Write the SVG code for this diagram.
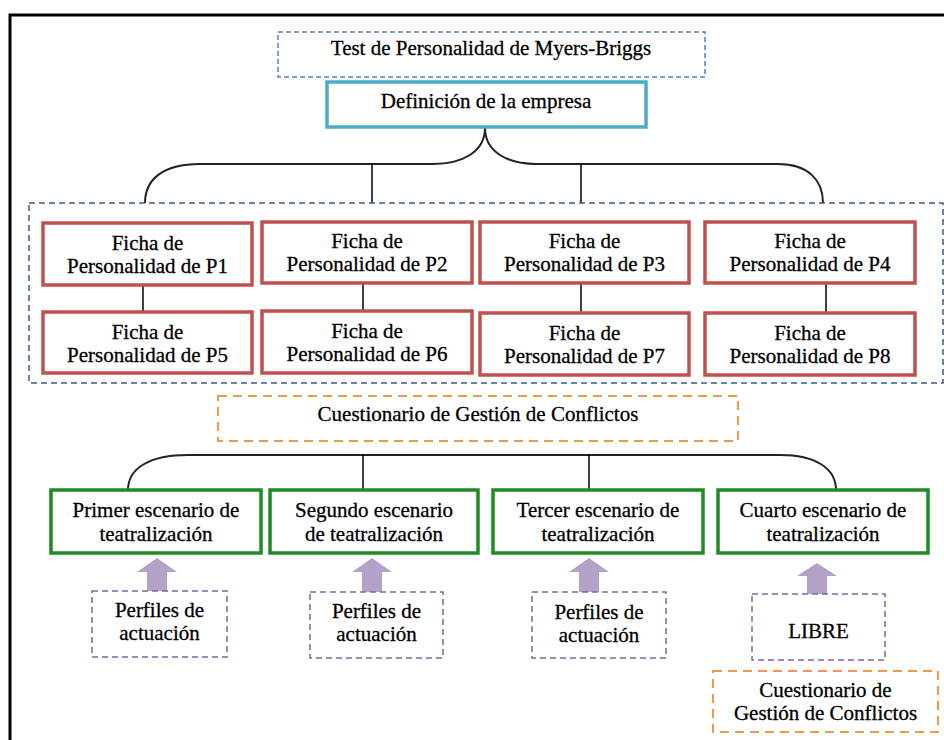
<svg xmlns="http://www.w3.org/2000/svg" width="944" height="740" viewBox="0 0 944 740">
  <style>
    text { font-family: "Liberation Serif", "Times New Roman", serif; font-size: 21px; fill: #000; stroke: #000; stroke-width: 0.3; text-anchor: middle; }
    .frame { fill: none; stroke: #000; stroke-width: 3; }
    .test { fill: #fff; stroke: #4f81bd; stroke-width: 1.5; stroke-dasharray: 5 3; }
    .def { fill: #fff; stroke: #4bacc6; stroke-width: 3.5; }
    .group { fill: none; stroke: #3c5a85; stroke-width: 1.5; stroke-dasharray: 6 4; }
    .ficha { fill: #fff; stroke: #c0504d; stroke-width: 3.5; }
    .quest { fill: #fff; stroke: #f79646; stroke-width: 2; stroke-dasharray: 9 6; }
    .scene { fill: #fff; stroke: #1f8b24; stroke-width: 3.5; }
    .perfil { fill: #fff; stroke: #8064a2; stroke-width: 1.5; stroke-dasharray: 6 4; }
    .arrow { fill: #b3a2c7; }
    .link { fill: none; stroke: #000; stroke-width: 1.5; }
    .brace { fill: none; stroke: #222; stroke-width: 2; }
  </style>

  <!-- page frame -->
  <path class="frame" d="M10,740 V15 H944"/>

  <!-- connectors -->
  <g id="connectors">
    <path class="brace" d="M145,203 C145,180 162,164 200,164 L433,164 C462,164 485,152 485,128 C485,152 508,164 536,164 L778,164 C808,164 823,180 823,203"/>
    <line class="link" x1="372" y1="164" x2="372" y2="203"/>
    <line class="link" x1="581" y1="164" x2="581" y2="203"/>
    <line class="link" x1="143" y1="285" x2="143" y2="312"/>
    <line class="link" x1="363" y1="283" x2="363" y2="311"/>
    <line class="link" x1="581" y1="283" x2="581" y2="313"/>
    <line class="link" x1="826" y1="283" x2="826" y2="313"/>
    <path class="brace" d="M128,490 C128,468 150,455 188,455 L780,455 C815,455 836,468 836,490"/>
    <line class="link" x1="363" y1="455" x2="363" y2="490"/>
    <line class="link" x1="589" y1="455" x2="589" y2="490"/>
    <polygon class="arrow" points="157,558 177,572 167,572 167,592 147,592 147,572 137,572"/>
    <polygon class="arrow" points="372,558 392,572 382,572 382,592 362,592 362,572 352,572"/>
    <polygon class="arrow" points="589,558 609,572 599,572 599,592 579,592 579,572 569,572"/>
    <polygon class="arrow" points="817,563 837,576 827,576 827,594 807,594 807,576 797,576"/>
  </g>

  <g id="test-myers-briggs">
    <rect class="test" x="278" y="32" width="427" height="45"/>
    <text x="491" y="55">Test de Personalidad de Myers-Briggs</text>
  </g>

  <g id="definicion-empresa">
    <rect class="def" x="327" y="82" width="319" height="45"/>
    <text x="486" y="108">Definición de la empresa</text>
  </g>

  <g id="fichas">
    <rect class="group" x="29" y="203" width="914" height="180"/>
  </g>

  <g id="ficha-p1">
    <rect class="ficha" x="43" y="223" width="209" height="62"/>
    <text x="147.5" y="250">Ficha de</text>
    <text x="147.5" y="273">Personalidad de P1</text>
  </g>
  <g id="ficha-p2">
    <rect class="ficha" x="262" y="222" width="210" height="61"/>
    <text x="367" y="248">Ficha de</text>
    <text x="367" y="271">Personalidad de P2</text>
  </g>
  <g id="ficha-p3">
    <rect class="ficha" x="480" y="222" width="209" height="61"/>
    <text x="584.5" y="248">Ficha de</text>
    <text x="584.5" y="271">Personalidad de P3</text>
  </g>
  <g id="ficha-p4">
    <rect class="ficha" x="705" y="222" width="210" height="61"/>
    <text x="810" y="248">Ficha de</text>
    <text x="810" y="271">Personalidad de P4</text>
  </g>
  <g id="ficha-p5">
    <rect class="ficha" x="43" y="312" width="209" height="61"/>
    <text x="147.5" y="339">Ficha de</text>
    <text x="147.5" y="362">Personalidad de P5</text>
  </g>
  <g id="ficha-p6">
    <rect class="ficha" x="262" y="311" width="210" height="62"/>
    <text x="367" y="338">Ficha de</text>
    <text x="367" y="361">Personalidad de P6</text>
  </g>
  <g id="ficha-p7">
    <rect class="ficha" x="480" y="313" width="209" height="62"/>
    <text x="584.5" y="340">Ficha de</text>
    <text x="584.5" y="363">Personalidad de P7</text>
  </g>
  <g id="ficha-p8">
    <rect class="ficha" x="705" y="313" width="210" height="62"/>
    <text x="810" y="340">Ficha de</text>
    <text x="810" y="363">Personalidad de P8</text>
  </g>

  <g id="cuestionario">
    <rect class="quest" x="218" y="396" width="520" height="45"/>
    <text x="478" y="421">Cuestionario de Gestión de Conflictos</text>
  </g>

  <g id="escenario-1">
    <rect class="scene" x="51" y="490" width="210" height="63"/>
    <text x="156" y="517">Primer escenario de</text>
    <text x="156" y="541">teatralización</text>
  </g>
  <g id="escenario-2">
    <rect class="scene" x="270" y="490" width="208" height="63"/>
    <text x="374" y="517">Segundo escenario</text>
    <text x="374" y="541">de teatralización</text>
  </g>
  <g id="escenario-3">
    <rect class="scene" x="493" y="490" width="210" height="63"/>
    <text x="598" y="517">Tercer escenario de</text>
    <text x="598" y="541">teatralización</text>
  </g>
  <g id="escenario-4">
    <rect class="scene" x="718" y="490" width="210" height="63"/>
    <text x="823" y="517">Cuarto escenario de</text>
    <text x="823" y="541">teatralización</text>
  </g>

  <g id="perfiles-1">
    <rect class="perfil" x="92" y="591" width="135" height="66"/>
    <text x="159.5" y="617">Perfiles de</text>
    <text x="159.5" y="640">actuación</text>
  </g>
  <g id="perfiles-2">
    <rect class="perfil" x="310" y="592" width="133" height="66"/>
    <text x="376.5" y="618">Perfiles de</text>
    <text x="376.5" y="641">actuación</text>
  </g>
  <g id="perfiles-3">
    <rect class="perfil" x="532" y="592" width="134" height="66"/>
    <text x="599" y="619">Perfiles de</text>
    <text x="599" y="642">actuación</text>
  </g>
  <g id="libre">
    <rect class="perfil" x="752" y="594" width="133" height="66"/>
    <text x="818.5" y="638">LIBRE</text>
  </g>

  <g id="cuestionario-final">
    <rect class="quest" x="713" y="671" width="225" height="61"/>
    <text x="825.5" y="697">Cuestionario de</text>
    <text x="825.5" y="720">Gestión de Conflictos</text>
  </g>
</svg>
